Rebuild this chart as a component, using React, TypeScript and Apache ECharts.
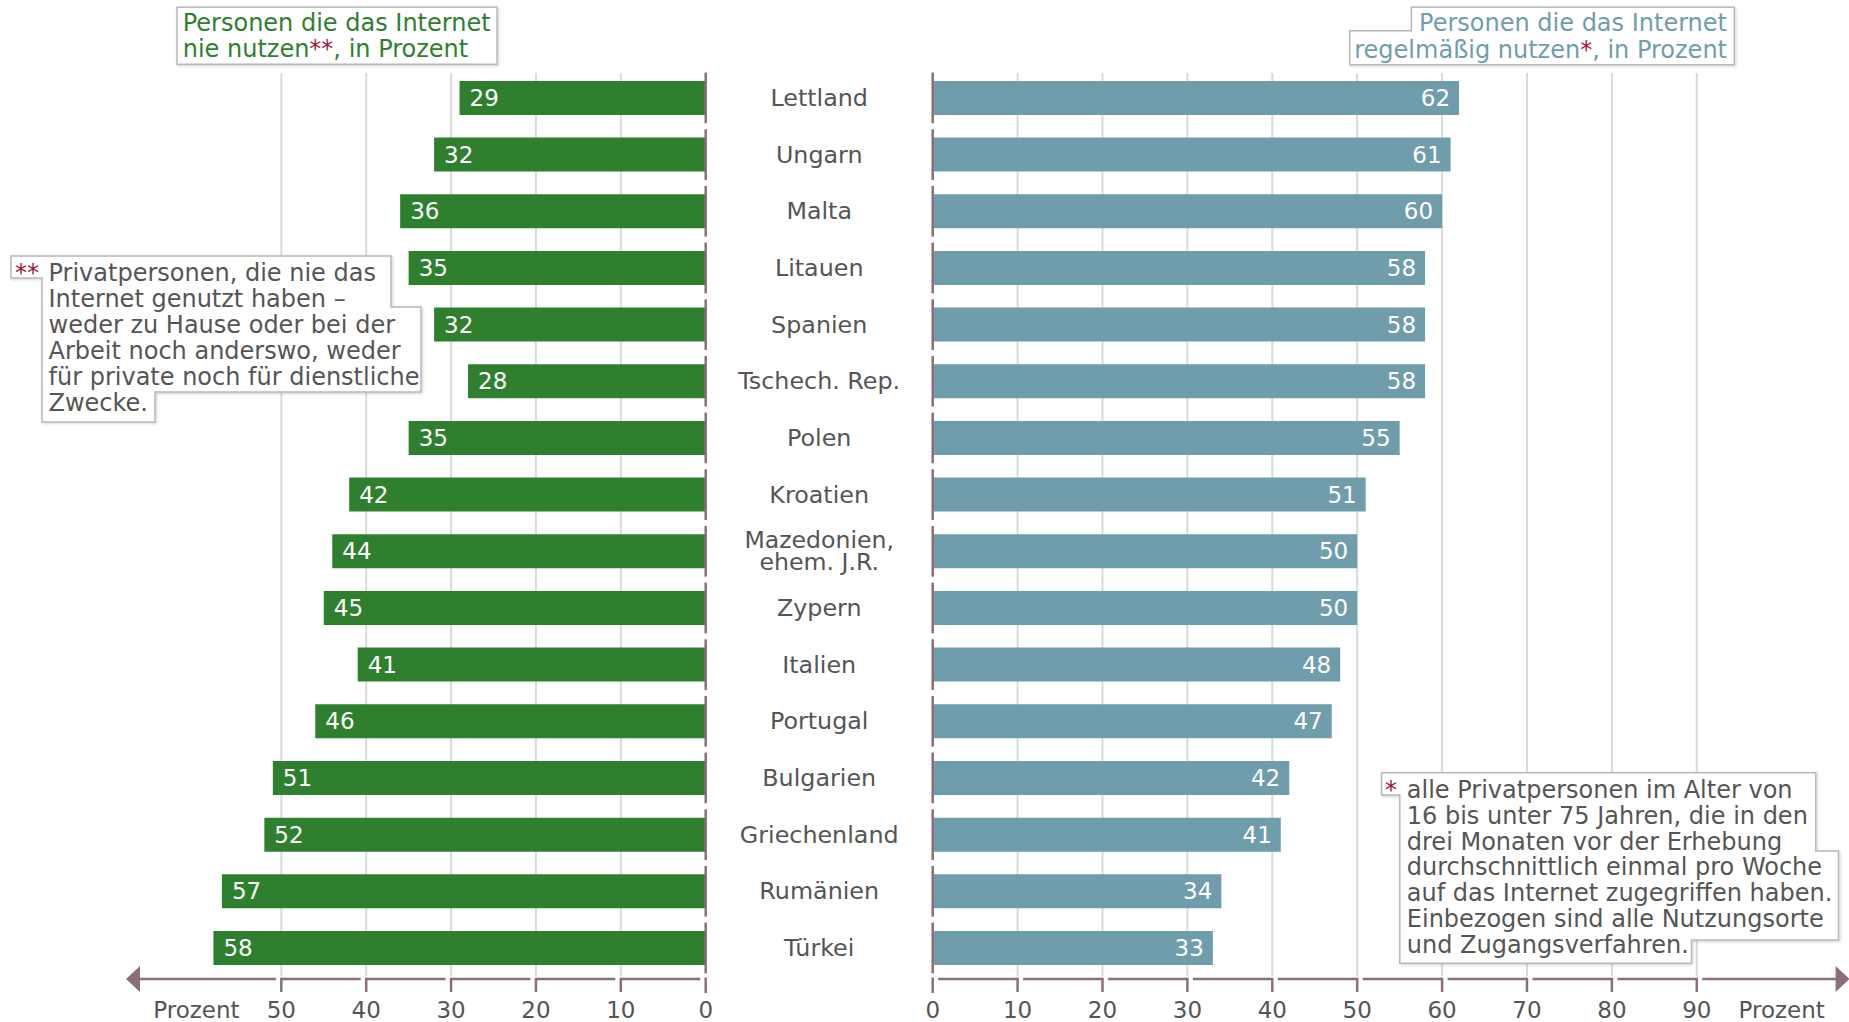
import React, { useEffect, useRef } from 'react';
import * as echarts from 'echarts';

const countries = ['Lettland', 'Ungarn', 'Malta', 'Litauen', 'Spanien', 'Tschech. Rep.', 'Polen', 'Kroatien', 'Mazedonien,\nehem. J.R.', 'Zypern', 'Italien', 'Portugal', 'Bulgarien', 'Griechenland', 'Rumänien', 'Türkei'];
const neverUse = [29, 32, 36, 35, 32, 28, 35, 42, 44, 45, 41, 46, 51, 52, 57, 58];
const regularUse = [62, 61, 60, 58, 58, 58, 55, 51, 50, 50, 48, 47, 42, 41, 34, 33];
const leftTicks = [0, 10, 20, 30, 40, 50];
const rightTicks = [0, 10, 20, 30, 40, 50, 60, 70, 80, 90];
const leftUnitTick = 60;
const rightUnitTick = 100;
const unitLabel = 'Prozent';
const leftMax = 68.3;
const rightMax = 108;

const FONT = 'DejaVu Sans, Verdana, sans-serif';
const GREEN = '#2e802f';
const TEAL = '#6f9dac';
const AXIS = '#8c6e75';
const GRIDC = '#dadada';
const TEXT = '#555555';
const RED = '#a3173f';
const BOX = '#b8b8b8';

const GAP = 5.5;

function axisRender(ticks: number[], max: number) {
  const last = ticks[ticks.length - 1];
  return (params: any, api: any) => {
    const v = api.value(0);
    const cs = params.coordSys;
    const ya = cs.y + cs.height + 2.7;
    const x0 = api.coord([v, 0])[0];
    const isLast = v === last;
    const x1 = api.coord([isLast ? max : v + 10, 0])[0];
    const dir = x1 > x0 ? 1 : -1;
    const st = { stroke: AXIS, lineWidth: 2.5 };
    const children: any[] = [];
    const lineEnd = isLast ? x1 - dir * 13 : x1;
    children.push({ type: 'line', shape: { x1: x0 + dir * GAP, y1: ya, x2: lineEnd, y2: ya }, style: st });
    if (!isLast) {
      children.push({ type: 'line', shape: { x1: x1, y1: ya - 1.25, x2: x1, y2: ya + 13 }, style: st });
    } else {
      children.push({ type: 'polygon', shape: { points: [[x1, ya], [x1 - dir * 14, ya - 13], [x1 - dir * 14, ya + 13]] }, style: { fill: AXIS } });
    }
    if (v === 0) {
      children.push({ type: 'line', shape: { x1: x0, y1: ya - 1.5, x2: x0, y2: ya + 14 }, style: st });
    }
    return { type: 'group', children };
  };
}

function gridRender(params: any, api: any) {
  const v = api.value(0);
  const cs = params.coordSys;
  const x = api.coord([v, 0])[0];
  return { type: 'line', shape: { x1: x, y1: cs.y + 3.4, x2: x, y2: cs.y + cs.height }, style: { stroke: GRIDC, lineWidth: 2 } };
}

function zeroRender(params: any, api: any) {
  const i = api.value(1);
  const p = api.coord([0, i]);
  const h = api.size([0, 1])[1];
  return { type: 'line', shape: { x1: p[0], y1: p[1] - h / 2 + 3, x2: p[0], y2: p[1] + h / 2 - 3 }, style: { stroke: AXIS, lineWidth: 2.5 } };
}

function boxStyle() {
  return { fill: '#fff', stroke: BOX, lineWidth: 1.5, shadowBlur: 3, shadowColor: 'rgba(0,0,0,0.18)', shadowOffsetX: 1, shadowOffsetY: 1 };
}

export default function App() {
  const ref = useRef<HTMLDivElement>(null);
  useEffect(() => {
    if (!ref.current) return;
    const chart = echarts.init(ref.current, null, { renderer: 'svg' });
    const GRID_TOP = 69.6;
    const GRID_H = 906.7;
    const leftLabel = (v: number) => (v === leftUnitTick ? unitLabel : leftTicks.includes(v) ? String(v) : '');
    const rightLabel = (v: number) => (v === rightUnitTick ? unitLabel : rightTicks.includes(v) ? String(v) : '');
    const axisLabelBase = { color: TEXT, fontSize: 23, fontFamily: FONT, margin: 22 };
    const option: any = {
      animation: false,
      textStyle: { fontFamily: FONT },
      grid: [
        { left: 126, width: 579.7, top: GRID_TOP, height: GRID_H, containLabel: false, outerBoundsMode: 'none' },
        { left: 932.7, width: 916.9, top: GRID_TOP, height: GRID_H, containLabel: false, outerBoundsMode: 'none' },
      ],
      xAxis: [
        {
          type: 'value', gridIndex: 0, min: 0, max: leftMax, interval: 10, inverse: true,
          axisLine: { show: false }, axisTick: { show: false }, splitLine: { show: false },
          axisLabel: { ...axisLabelBase, formatter: leftLabel, showMinLabel: true, showMaxLabel: true },
        },
        {
          type: 'value', gridIndex: 1, min: 0, max: rightMax, interval: 10,
          axisLine: { show: false }, axisTick: { show: false }, splitLine: { show: false },
          axisLabel: { ...axisLabelBase, formatter: rightLabel, showMinLabel: true, showMaxLabel: true },
        },
      ],
      yAxis: [
        {
          type: 'category', gridIndex: 0, data: countries, inverse: true,
          axisLine: { show: false }, axisTick: { show: false }, axisLabel: { show: false }, splitLine: { show: false },
        },
        {
          type: 'category', gridIndex: 1, data: countries, inverse: true,
          axisLine: { show: false }, axisTick: { show: false }, splitLine: { show: false },
          axisLabel: {
            show: true, align: 'center', margin: 113.5, color: TEXT, fontSize: 23.8, fontFamily: FONT, interval: 0,
            lineHeight: 22,
            formatter: (v: string) => (v.includes('\n') ? v.split('\n').map((s) => `{s|${s}}`).join('\n') : v),
            rich: { s: { fontSize: 23.6, lineHeight: 22, color: TEXT, fontFamily: FONT } },
          },
        },
      ],
      series: [
        {
          type: 'custom', xAxisIndex: 0, yAxisIndex: 0, z: 1, silent: true,
          renderItem: gridRender, data: leftTicks.filter((t) => t > 0).map((t) => [t, 0]),
        },
        {
          type: 'custom', xAxisIndex: 1, yAxisIndex: 1, z: 1, silent: true,
          renderItem: gridRender, data: rightTicks.filter((t) => t > 0).map((t) => [t, 0]),
        },
        {
          type: 'bar', xAxisIndex: 0, yAxisIndex: 0, z: 2, data: neverUse, barWidth: 34,
          itemStyle: { color: GREEN },
          label: { show: true, position: 'insideLeft', distance: 10, color: '#fff', fontSize: 23, fontFamily: FONT },
        },
        {
          type: 'bar', xAxisIndex: 1, yAxisIndex: 1, z: 2, data: regularUse, barWidth: 34,
          itemStyle: { color: TEAL },
          label: { show: true, position: 'insideRight', distance: 9, color: '#fff', fontSize: 23, fontFamily: FONT },
        },
        {
          type: 'custom', xAxisIndex: 0, yAxisIndex: 0, z: 3, silent: true,
          renderItem: zeroRender, data: countries.map((_, i) => [0, i]),
        },
        {
          type: 'custom', xAxisIndex: 1, yAxisIndex: 1, z: 3, silent: true,
          renderItem: zeroRender, data: countries.map((_, i) => [0, i]),
        },
        {
          type: 'custom', xAxisIndex: 0, yAxisIndex: 0, z: 3, silent: true,
          renderItem: axisRender(leftTicks, leftMax), data: leftTicks.map((t) => [t, 0]),
        },
        {
          type: 'custom', xAxisIndex: 1, yAxisIndex: 1, z: 3, silent: true,
          renderItem: axisRender(rightTicks, rightMax), data: rightTicks.map((t) => [t, 0]),
        },
      ],
      graphic: [
        // left title box
        { type: 'polygon', z: 100, shape: { points: [[177, 7.3], [497, 7.3], [497, 64.3], [177, 64.3]] }, style: boxStyle() },
        {
          type: 'text', z: 101, x: 182.7, y: 9.7,
          style: {
            text: 'Personen die das Internet\nnie nutzen{r|**}, in Prozent',
            fill: GREEN, fontSize: 24, fontFamily: FONT, lineHeight: 26, align: 'left', verticalAlign: 'top',
            rich: { r: { fill: RED, fontSize: 24, fontFamily: FONT, lineHeight: 26 } },
          },
        },
        // right title box
        {
          type: 'polygon', z: 100,
          shape: { points: [[1411.4, 7.3], [1734.3, 7.3], [1734.3, 64.7], [1349.8, 64.7], [1349.8, 30.7], [1411.4, 30.7]] },
          style: boxStyle(),
        },
        {
          type: 'text', z: 101, x: 1727, y: 9.7,
          style: {
            text: 'Personen die das Internet\nregelmäßig nutzen{r|*}, in Prozent',
            fill: TEAL, fontSize: 24, fontFamily: FONT, lineHeight: 26.6, align: 'right', verticalAlign: 'top',
            rich: { r: { fill: RED, fontSize: 24, fontFamily: FONT, lineHeight: 26.6 } },
          },
        },
        // left footnote
        {
          type: 'polygon', z: 100,
          shape: { points: [[11, 256], [391, 256], [391, 307], [421, 307], [421, 392], [155, 392], [155, 422], [42, 422], [42, 278], [11, 278]] },
          style: boxStyle(),
        },
        {
          type: 'text', z: 101, x: 15, y: 260,
          style: { text: '**', fill: RED, fontSize: 24, fontFamily: FONT, lineHeight: 26, align: 'left', verticalAlign: 'top' },
        },
        {
          type: 'text', z: 101, x: 48.5, y: 260,
          style: {
            text: 'Privatpersonen, die nie das\nInternet genutzt haben –\nweder zu Hause oder bei der\nArbeit noch anderswo, weder\nfür private noch für dienstliche\nZwecke.',
            fill: TEXT, fontSize: 24, fontFamily: FONT, lineHeight: 26, align: 'left', verticalAlign: 'top',
          },
        },
        // right footnote
        {
          type: 'polygon', z: 100,
          shape: { points: [[1381.6, 772.7], [1815.8, 772.7], [1815.8, 851], [1838.5, 851], [1838.5, 940], [1691.5, 940], [1691.5, 963.3], [1399.8, 963.3], [1399.8, 795], [1381.6, 795]] },
          style: boxStyle(),
        },
        {
          type: 'text', z: 101, x: 1385, y: 777,
          style: { text: '*', fill: RED, fontSize: 24, fontFamily: FONT, lineHeight: 25.8, align: 'left', verticalAlign: 'top' },
        },
        {
          type: 'text', z: 101, x: 1406.8, y: 777,
          style: {
            text: 'alle Privatpersonen im Alter von\n16 bis unter 75 Jahren, die in den\ndrei Monaten vor der Erhebung\ndurchschnittlich einmal pro Woche\nauf das Internet zugegriffen haben.\nEinbezogen sind alle Nutzungsorte\nund Zugangsverfahren.',
            fill: TEXT, fontSize: 24, fontFamily: FONT, lineHeight: 25.8, align: 'left', verticalAlign: 'top',
          },
        },
      ],
    };
    chart.setOption(option);
    return () => chart.dispose();
  }, []);
  return <div ref={ref} style={{ position: 'fixed', left: 0, top: 0, width: 1849, height: 1022, background: '#fff' }} />;
}
